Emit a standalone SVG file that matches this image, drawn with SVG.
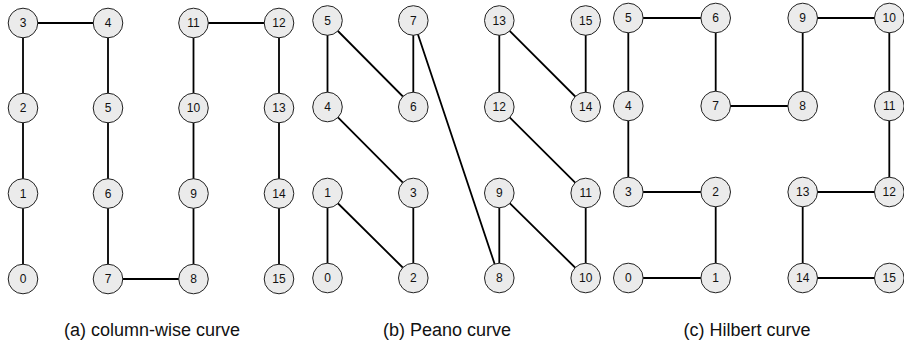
<svg xmlns="http://www.w3.org/2000/svg" width="904" height="347" viewBox="0 0 904 347">
<style>
.e{stroke:#000;stroke-width:1.8;fill:none}
.n circle{fill:#ebebeb;stroke:#222;stroke-width:1}
.n text{font-family:"Liberation Sans",Arial,sans-serif;font-size:12px;fill:#111;text-anchor:middle}
.cap{font-family:"Liberation Sans",Arial,sans-serif;font-size:18px;fill:#111;text-anchor:middle}
</style>
<rect width="904" height="347" fill="#fff"/>
<g id="connectors">
<!-- (a) column-wise -->
<polyline class="e" points="23,279 23,23 108,23 108,279 193.5,279 193.5,23 279,23 279,279"/>
<!-- (b) Peano -->
<polyline class="e" points="327.5,278 327.5,193 413.3,278 413.3,193 327.5,107 327.5,20.5 413.3,107 413.3,20.5 499.3,278 499.3,193 585.7,278 585.7,193 499.3,107 499.3,20.5 585.7,107 585.7,20.5"/>
<!-- (c) Hilbert -->
<polyline class="e" points="628.3,278 715.7,278 715.7,192 628.3,192 628.3,106 628.3,18 715.7,18 715.7,106 802.7,106 802.7,18 889.3,18 889.3,106 889.3,192 802.7,192 802.7,278 889.3,278"/>
</g>
<!-- (a) -->
<g id="a0" class="n"><circle cx="23" cy="279" r="14.8"/><text x="23" y="283.3">0</text></g>
<g id="a1" class="n"><circle cx="23" cy="193.5" r="14.8"/><text x="23" y="197.8">1</text></g>
<g id="a2" class="n"><circle cx="23" cy="108" r="14.8"/><text x="23" y="112.3">2</text></g>
<g id="a3" class="n"><circle cx="23" cy="23" r="14.8"/><text x="23" y="27.3">3</text></g>
<g id="a4" class="n"><circle cx="108" cy="23" r="14.8"/><text x="108" y="27.3">4</text></g>
<g id="a5" class="n"><circle cx="108" cy="108" r="14.8"/><text x="108" y="112.3">5</text></g>
<g id="a6" class="n"><circle cx="108" cy="193.5" r="14.8"/><text x="108" y="197.8">6</text></g>
<g id="a7" class="n"><circle cx="108" cy="279" r="14.8"/><text x="108" y="283.3">7</text></g>
<g id="a8" class="n"><circle cx="193.5" cy="279" r="14.8"/><text x="193.5" y="283.3">8</text></g>
<g id="a9" class="n"><circle cx="193.5" cy="193.5" r="14.8"/><text x="193.5" y="197.8">9</text></g>
<g id="a10" class="n"><circle cx="193.5" cy="108" r="14.8"/><text x="193.5" y="112.3">10</text></g>
<g id="a11" class="n"><circle cx="193.5" cy="23" r="14.8"/><text x="193.5" y="27.3">11</text></g>
<g id="a12" class="n"><circle cx="279" cy="23" r="14.8"/><text x="279" y="27.3">12</text></g>
<g id="a13" class="n"><circle cx="279" cy="108" r="14.8"/><text x="279" y="112.3">13</text></g>
<g id="a14" class="n"><circle cx="279" cy="193.5" r="14.8"/><text x="279" y="197.8">14</text></g>
<g id="a15" class="n"><circle cx="279" cy="279" r="14.8"/><text x="279" y="283.3">15</text></g>
<!-- (b) -->
<g id="b0" class="n"><circle cx="327.5" cy="278" r="14.8"/><text x="327.5" y="282.3">0</text></g>
<g id="b1" class="n"><circle cx="327.5" cy="193" r="14.8"/><text x="327.5" y="197.3">1</text></g>
<g id="b2" class="n"><circle cx="413.3" cy="278" r="14.8"/><text x="413.3" y="282.3">2</text></g>
<g id="b3" class="n"><circle cx="413.3" cy="193" r="14.8"/><text x="413.3" y="197.3">3</text></g>
<g id="b4" class="n"><circle cx="327.5" cy="107" r="14.8"/><text x="327.5" y="111.3">4</text></g>
<g id="b5" class="n"><circle cx="327.5" cy="20.5" r="14.8"/><text x="327.5" y="24.8">5</text></g>
<g id="b6" class="n"><circle cx="413.3" cy="107" r="14.8"/><text x="413.3" y="111.3">6</text></g>
<g id="b7" class="n"><circle cx="413.3" cy="20.5" r="14.8"/><text x="413.3" y="24.8">7</text></g>
<g id="b8" class="n"><circle cx="499.3" cy="278" r="14.8"/><text x="499.3" y="282.3">8</text></g>
<g id="b9" class="n"><circle cx="499.3" cy="193" r="14.8"/><text x="499.3" y="197.3">9</text></g>
<g id="b10" class="n"><circle cx="585.7" cy="278" r="14.8"/><text x="585.7" y="282.3">10</text></g>
<g id="b11" class="n"><circle cx="585.7" cy="193" r="14.8"/><text x="585.7" y="197.3">11</text></g>
<g id="b12" class="n"><circle cx="499.3" cy="107" r="14.8"/><text x="499.3" y="111.3">12</text></g>
<g id="b13" class="n"><circle cx="499.3" cy="20.5" r="14.8"/><text x="499.3" y="24.8">13</text></g>
<g id="b14" class="n"><circle cx="585.7" cy="107" r="14.8"/><text x="585.7" y="111.3">14</text></g>
<g id="b15" class="n"><circle cx="585.7" cy="20.5" r="14.8"/><text x="585.7" y="24.8">15</text></g>
<!-- (c) -->
<g id="c0" class="n"><circle cx="628.3" cy="278" r="14.8"/><text x="628.3" y="282.3">0</text></g>
<g id="c1" class="n"><circle cx="715.7" cy="278" r="14.8"/><text x="715.7" y="282.3">1</text></g>
<g id="c2" class="n"><circle cx="715.7" cy="192" r="14.8"/><text x="715.7" y="196.3">2</text></g>
<g id="c3" class="n"><circle cx="628.3" cy="192" r="14.8"/><text x="628.3" y="196.3">3</text></g>
<g id="c4" class="n"><circle cx="628.3" cy="106" r="14.8"/><text x="628.3" y="110.3">4</text></g>
<g id="c5" class="n"><circle cx="628.3" cy="18" r="14.8"/><text x="628.3" y="22.3">5</text></g>
<g id="c6" class="n"><circle cx="715.7" cy="18" r="14.8"/><text x="715.7" y="22.3">6</text></g>
<g id="c7" class="n"><circle cx="715.7" cy="106" r="14.8"/><text x="715.7" y="110.3">7</text></g>
<g id="c8" class="n"><circle cx="802.7" cy="106" r="14.8"/><text x="802.7" y="110.3">8</text></g>
<g id="c9" class="n"><circle cx="802.7" cy="18" r="14.8"/><text x="802.7" y="22.3">9</text></g>
<g id="c10" class="n"><circle cx="889.3" cy="18" r="14.8"/><text x="889.3" y="22.3">10</text></g>
<g id="c11" class="n"><circle cx="889.3" cy="106" r="14.8"/><text x="889.3" y="110.3">11</text></g>
<g id="c12" class="n"><circle cx="889.3" cy="192" r="14.8"/><text x="889.3" y="196.3">12</text></g>
<g id="c13" class="n"><circle cx="802.7" cy="192" r="14.8"/><text x="802.7" y="196.3">13</text></g>
<g id="c14" class="n"><circle cx="802.7" cy="278" r="14.8"/><text x="802.7" y="282.3">14</text></g>
<g id="c15" class="n"><circle cx="889.3" cy="278" r="14.8"/><text x="889.3" y="282.3">15</text></g>
<text class="cap" x="152" y="336">(a) column-wise curve</text>
<text class="cap" x="447" y="336">(b) Peano curve</text>
<text class="cap" x="747" y="336">(c) Hilbert curve</text>
</svg>
